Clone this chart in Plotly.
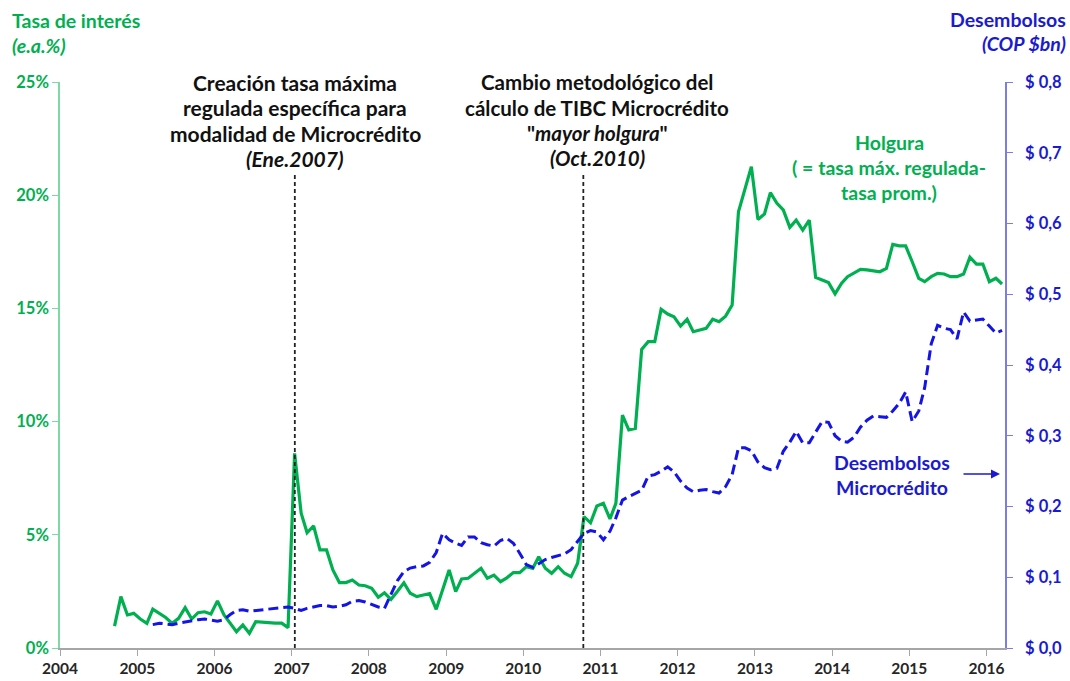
import pandas as pd
import plotly.graph_objects as go

# ---------------- data ----------------
green_start = "2004-09-01"
holgura = [
    0.97, 2.27, 1.46, 1.53,
    1.28, 1.09, 1.72, 1.53, 1.35, 1.09, 1.31, 1.78, 1.28, 1.56, 1.60, 1.50,
    2.08, 1.46, 1.09, 0.72, 1.02, 0.65, 1.16, 1.13, 1.10, 1.10, 1.10, 0.90,
    8.60, 5.95, 5.09, 5.39, 4.33, 4.33, 3.45, 2.89, 2.89, 3.00, 2.78, 2.75,
    2.64, 2.24, 2.44, 2.15, 2.50, 2.88, 2.42, 2.27, 2.34, 2.40, 1.71, 2.60,
    3.45, 2.49, 3.05, 3.08, 3.30, 3.52, 3.08, 3.22, 2.93, 3.10, 3.33, 3.33,
    3.59, 3.52, 4.03, 3.52, 3.30, 3.59, 3.30, 3.15, 3.74, 5.80, 5.53, 6.27,
    6.39, 5.70, 6.39, 10.29, 9.63, 9.70, 13.19, 13.53, 13.53, 14.96, 14.75, 14.63,
    14.22, 14.52, 13.97, 14.05, 14.12, 14.52, 14.41, 14.66, 15.15, 19.27, 20.23, 21.26,
    18.93, 19.17, 20.11, 19.64, 19.35, 18.58, 18.90, 18.46, 18.90, 16.37, 16.25, 16.14,
    15.64, 16.11, 16.40, 16.55, 16.72, 16.70, 16.67, 16.62, 16.77, 17.83, 17.76, 17.76,
    17.06, 16.33, 16.18, 16.40, 16.55, 16.52, 16.40, 16.40, 16.52, 17.26, 16.96, 16.96,
    16.18, 16.33, 16.08,
]

blue_start = "2005-03-01"
desembolsos = [
    0.033, 0.035, 0.034, 0.033, 0.035, 0.037, 0.038, 0.040, 0.041, 0.040,
    0.038, 0.040, 0.047, 0.053, 0.054, 0.052, 0.053, 0.054, 0.055, 0.057, 0.058, 0.058,
    0.056, 0.053, 0.056, 0.058, 0.060, 0.060, 0.058, 0.059, 0.061, 0.066, 0.067, 0.065,
    0.061, 0.058, 0.056, 0.075, 0.095, 0.108, 0.113, 0.115, 0.116, 0.121, 0.135, 0.162,
    0.153, 0.148, 0.145, 0.157, 0.157, 0.149, 0.146, 0.144, 0.152, 0.155, 0.148, 0.134,
    0.118, 0.114, 0.119, 0.125, 0.128, 0.130, 0.133, 0.139, 0.150, 0.162, 0.166, 0.164,
    0.153, 0.165, 0.184, 0.209, 0.214, 0.219, 0.223, 0.243, 0.245, 0.250, 0.256, 0.249,
    0.236, 0.226, 0.221, 0.223, 0.224, 0.221, 0.219, 0.228, 0.245, 0.283, 0.283, 0.279,
    0.263, 0.255, 0.252, 0.254, 0.278, 0.291, 0.306, 0.290, 0.290, 0.305, 0.320, 0.319,
    0.300, 0.292, 0.291, 0.298, 0.312, 0.322, 0.328, 0.327, 0.326, 0.335, 0.346, 0.362,
    0.320, 0.335, 0.368, 0.430, 0.456, 0.452, 0.450, 0.437, 0.475, 0.462, 0.463, 0.465,
    0.455, 0.445, 0.449,
]

years = list(range(2004, 2017))
year_labels = [str(y) for y in years]
left_ticks = [0, 5, 10, 15, 20, 25]
left_labels = ["0%", "5%", "10%", "15%", "20%", "25%"]
right_ticks = [0.0, 0.1, 0.2, 0.3, 0.4, 0.5, 0.6, 0.7, 0.8]
right_labels = ["$ 0,0", "$ 0,1", "$ 0,2", "$ 0,3", "$ 0,4", "$ 0,5", "$ 0,6", "$ 0,7", "$ 0,8"]

event_dates = ["2007-01-16", "2010-10-12"]
event_top = 20.9  # % on left axis

event1_lines = ["<b>Creación tasa máxima</b>", "<b>regulada específica para</b>",
                "<b>modalidad de Microcrédito</b>", "<b><i>(Ene.2007)</i></b>"]
event2_lines = ["<b>Cambio metodológico del</b>", "<b>cálculo de TIBC Microcrédito</b>",
                "<b>\"<i>mayor holgura</i>\"</b>", "<b><i>(Oct.2010)</i></b>"]
holgura_lines = ["<b>Holgura</b>", "<b>( = tasa máx. regulada-</b>", "<b>tasa prom.)</b>"]
desemb_lines = ["<b>Desembolsos</b>", "<b>Microcrédito</b>"]

GREEN = "#00B050"
BLUE = "#1414E6"
BLUE_TXT = "#1A1AD0"
FONT = "Lato"

# -------------- dates ---------------
g_dates = pd.date_range(green_start, periods=len(holgura), freq="MS") + pd.Timedelta(days=14)
b_dates = pd.date_range(blue_start, periods=len(desembolsos), freq="MS") + pd.Timedelta(days=14)

fig = go.Figure()
fig.add_trace(go.Scatter(x=g_dates, y=holgura, mode="lines", name="Holgura",
                         line=dict(color=GREEN, width=3.2), yaxis="y"))
fig.add_trace(go.Scatter(x=b_dates, y=desembolsos, mode="lines", name="Desembolsos",
                         line=dict(color=BLUE, width=3, dash="10px,5px"), yaxis="y2"))

for d in event_dates:
    fig.add_shape(type="line", xref="x", yref="y", x0=d, x1=d, y0=0, y1=event_top,
                  line=dict(color="#222222", width=1.8, dash="4px,3px"))

fig.update_layout(
    width=1070, height=681,
    margin=dict(l=60, r=65, t=82, b=33, autoexpand=False),
    paper_bgcolor="white", plot_bgcolor="white",
    showlegend=False,
    font=dict(family=FONT),
    xaxis=dict(
        type="date", automargin=False,
        range=["2004-01-01", "2016-03-29"],
        tickvals=[f"{y}-01-01" for y in years], ticktext=year_labels,
        showgrid=False, zeroline=False,
        showline=True, linecolor="#A6A6A6", linewidth=1.5,
        ticks="outside", ticklen=6, tickcolor="#A6A6A6",
        tickfont=dict(family=FONT, size=15.5, color="#262626", weight="bold"),
    ),
    yaxis=dict(
        automargin=False,
        range=[0, 25], tickvals=left_ticks, ticktext=left_labels,
        showgrid=False, zeroline=False,
        showline=True, linecolor="#7ED9A4", linewidth=1.5,
        ticks="outside", ticklen=6, tickcolor="#7ED9A4",
        tickfont=dict(family=FONT, size=16.5, color=GREEN, weight="bold"),
    ),
    yaxis2=dict(
        automargin=False,
        range=[0, 0.8], tickvals=right_ticks, ticktext=right_labels,
        overlaying="y", side="right",
        showgrid=False, zeroline=False,
        showline=True, linecolor="#7C7CE8", linewidth=1.5,
        ticks="outside", ticklen=6, tickcolor="#7C7CE8",
        ticklabelstandoff=9,
        tickfont=dict(family=FONT, size=16.5, color=BLUE_TXT, weight="bold"),
    ),
)

def px2paper_x(px):
    return (px - 60) / 945.0

def px2paper_y(py):
    return (648 - py) / 566.0

ann = []

def add_lines(lines, cx, cy0, step, size, color, anchor="center"):
    for i, t in enumerate(lines):
        ann.append(dict(xref="paper", yref="paper", x=px2paper_x(cx), y=px2paper_y(cy0 + i * step),
                        xanchor=anchor, yanchor="middle", text=t, showarrow=False,
                        font=dict(size=size, color=color, family=FONT)))

# axis titles
add_lines(["<b>Tasa de interés</b>", "<b><i>(e.a.%)</i></b>"], 10, 20, 26, 19.5, GREEN, "left")
add_lines(["<b>Desembolsos</b>", "<b><i>(COP $bn)</i></b>"], 1068, 19, 25, 19.5, BLUE_TXT, "right")
# event annotations
add_lines(event1_lines, 295, 82, 25.5, 21, "#111111")
add_lines(event2_lines, 597, 82, 25.5, 20.5, "#111111")
# series labels
add_lines(holgura_lines, 889, 142, 25.5, 19.5, GREEN)
add_lines(desemb_lines, 892, 462, 25, 19.5, BLUE_TXT)
ann.append(dict(xref="paper", yref="paper", x=px2paper_x(1000), y=px2paper_y(474), text="",
                showarrow=True, axref="pixel", ayref="pixel", ax=-38, ay=0,
                arrowhead=2, arrowsize=1.2, arrowwidth=1.5, arrowcolor=BLUE_TXT))
fig.update_layout(annotations=ann)

fig.write_html("out.html", config={"displayModeBar": False},
               post_script="document.body.style.margin='0';document.body.style.padding='0';")
